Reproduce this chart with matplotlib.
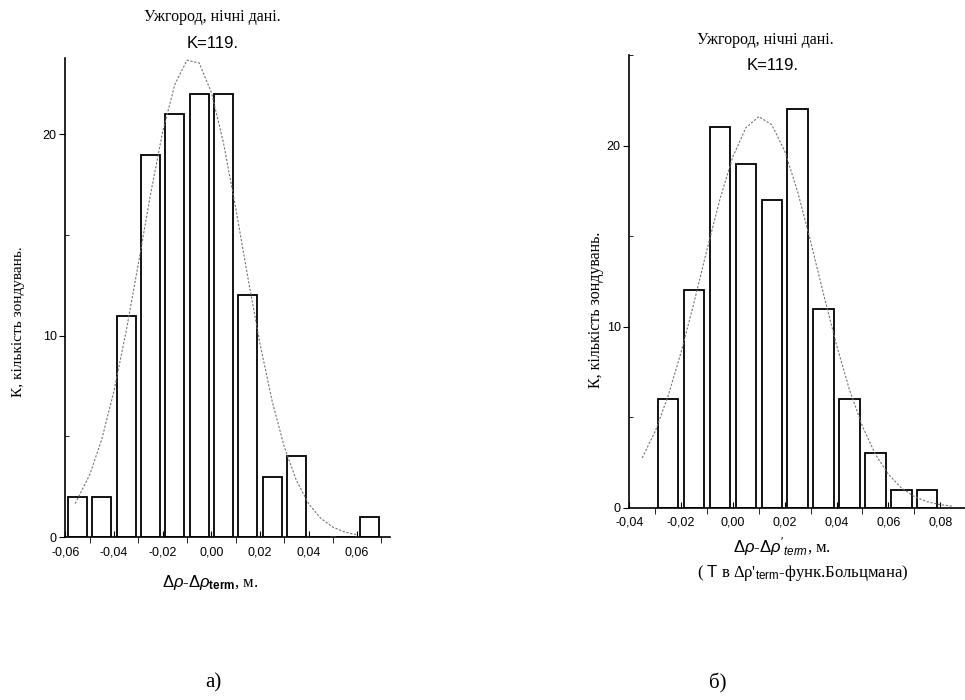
import matplotlib

matplotlib.use("Agg")
import matplotlib.pyplot as plt
from matplotlib.ticker import MultipleLocator, FuncFormatter

# histogram a): bin centres and counts
left_centers = [-0.055, -0.045, -0.035, -0.025, -0.015, -0.005, 0.005, 0.015,
                0.025, 0.035, 0.045, 0.055, 0.065]
left_counts = [2, 2, 11, 19, 21, 22, 22, 12, 3, 4, 0, 0, 1]

# fitted curve a)
left_fit_x = [-0.056, -0.050, -0.045, -0.040, -0.035, -0.030, -0.025, -0.020,
              -0.015, -0.010, -0.005, 0.000, 0.005, 0.010, 0.015, 0.020,
              0.025, 0.030, 0.035, 0.040, 0.045, 0.050, 0.055, 0.060]
left_fit_y = [1.66, 3.10, 4.89, 7.28, 10.25, 13.60, 17.04, 20.15,
              22.49, 23.69, 23.55, 22.10, 19.58, 16.37, 12.91, 9.61,
              6.76, 4.48, 2.81, 1.66, 0.93, 0.49, 0.24, 0.11]

# histogram б)
right_centers = [-0.025, -0.015, -0.005, 0.005, 0.015, 0.025, 0.035, 0.045,
                 0.055, 0.065, 0.075]
right_counts = [6, 12, 21, 19, 17, 22, 11, 6, 3, 1, 1]

right_fit_x = [-0.035, -0.030, -0.025, -0.020, -0.015, -0.010, -0.005, 0.000,
               0.005, 0.010, 0.015, 0.020, 0.025, 0.030, 0.035, 0.040,
               0.045, 0.050, 0.055, 0.060, 0.065, 0.070, 0.075, 0.080, 0.085]
right_fit_y = [2.75, 4.22, 6.17, 8.58, 11.33, 14.25, 17.04, 19.39,
               20.98, 21.60, 21.15, 19.70, 17.45, 14.71, 11.79, 8.99,
               6.52, 4.50, 2.95, 1.85, 1.10, 0.62, 0.33, 0.17, 0.08]

plt.rcParams["font.family"] = ["Liberation Sans", "DejaVu Sans"]
plt.rcParams["mathtext.fontset"] = "custom"
plt.rcParams["mathtext.rm"] = "Liberation Sans"
plt.rcParams["mathtext.it"] = "Liberation Sans:italic"
plt.rcParams["mathtext.bf"] = "Liberation Sans:bold"

W, H = 965, 700
fig = plt.figure(figsize=(W / 100, H / 100), dpi=100)


def px_axes(x0, y0, x1, y1):
    return fig.add_axes([x0 / W, 1 - y1 / H, (x1 - x0) / W, (y1 - y0) / H])


def ftext(x, y, s, **kw):
    fig.text(x / W, 1 - y / H, s, ha="center", va="center", **kw)


comma = FuncFormatter(lambda v, _: f"{v:.2f}".replace(".", ",").replace("-0,00", "0,00"))


def style_axes(ax, xlim, ylim):
    ax.set_xlim(*xlim)
    ax.set_ylim(*ylim)
    for side in ("top", "right"):
        ax.spines[side].set_visible(False)
    for side in ("left", "bottom"):
        ax.spines[side].set_linewidth(1.2)
    ax.xaxis.set_major_locator(MultipleLocator(0.02))
    ax.xaxis.set_minor_locator(MultipleLocator(0.01))
    ax.yaxis.set_major_locator(MultipleLocator(10))
    ax.yaxis.set_minor_locator(MultipleLocator(5))
    ax.xaxis.set_major_formatter(comma)
    ax.tick_params(axis="x", which="major", direction="in", length=4, labelsize=9, pad=6.5)
    ax.tick_params(axis="x", which="minor", direction="out", length=4)
    ax.tick_params(axis="y", which="major", direction="out", length=4, labelsize=9, pad=2)
    ax.tick_params(axis="y", which="minor", direction="in", length=3)
    ax.patch.set_alpha(0)


curve_kw = dict(color="0.45", lw=0.8, linestyle=(0, (2, 1.5)))
bar_kw = dict(color="white", edgecolor="black", linewidth=1.3)

# ---- a)
ax1 = px_axes(65, 58, 390, 537)
ax1.bar(left_centers, left_counts, width=0.0078, **bar_kw)
ax1.plot(left_fit_x, left_fit_y, **curve_kw)
style_axes(ax1, (-0.0602, 0.0735), (0, 23.8))

ftext(212, 17, "Ужгород, нічні дані.", family="Liberation Serif", fontsize=11.5)
ftext(213, 43, "K=119.", fontsize=12)
ftext(19, 322, "К, кількість зондувань.", family="Liberation Serif", fontsize=11, rotation=90)
ftext(210, 583, r"$\mathit{Δρ}$-$\mathit{Δρ}_{\mathbf{term}}$, м.",
      family="Liberation Serif", fontsize=12)
ftext(213, 683, "а)", family="Liberation Serif", fontsize=15)

# ---- б)
ax2 = px_axes(629, 55, 965, 507.7)
ax2.bar(right_centers, right_counts, width=0.0079, **bar_kw)
ax2.plot(right_fit_x, right_fit_y, **curve_kw)
style_axes(ax2, (-0.0401, 0.0896), (0, 25))

ftext(765, 40, "Ужгород, нічні дані.", family="Liberation Serif", fontsize=11.5)
ftext(773, 65, "K=119.", fontsize=12)
ftext(596, 310, "К, кількість зондувань.", family="Liberation Serif", fontsize=11.5, rotation=90)
ftext(782, 547, r"$\mathit{Δρ}$-$\mathit{Δρ}'_{\mathit{term}}$, м.",
      family="Liberation Serif", fontsize=12)
ftext(803, 573, r"( $\mathrm{T}$ в Δρ'$_{\mathrm{term}}$-функ.Больцмана)",
      family="Liberation Serif", fontsize=12)
ftext(718, 683, "б)", family="Liberation Serif", fontsize=15)

fig.savefig("out.png", dpi=100)
